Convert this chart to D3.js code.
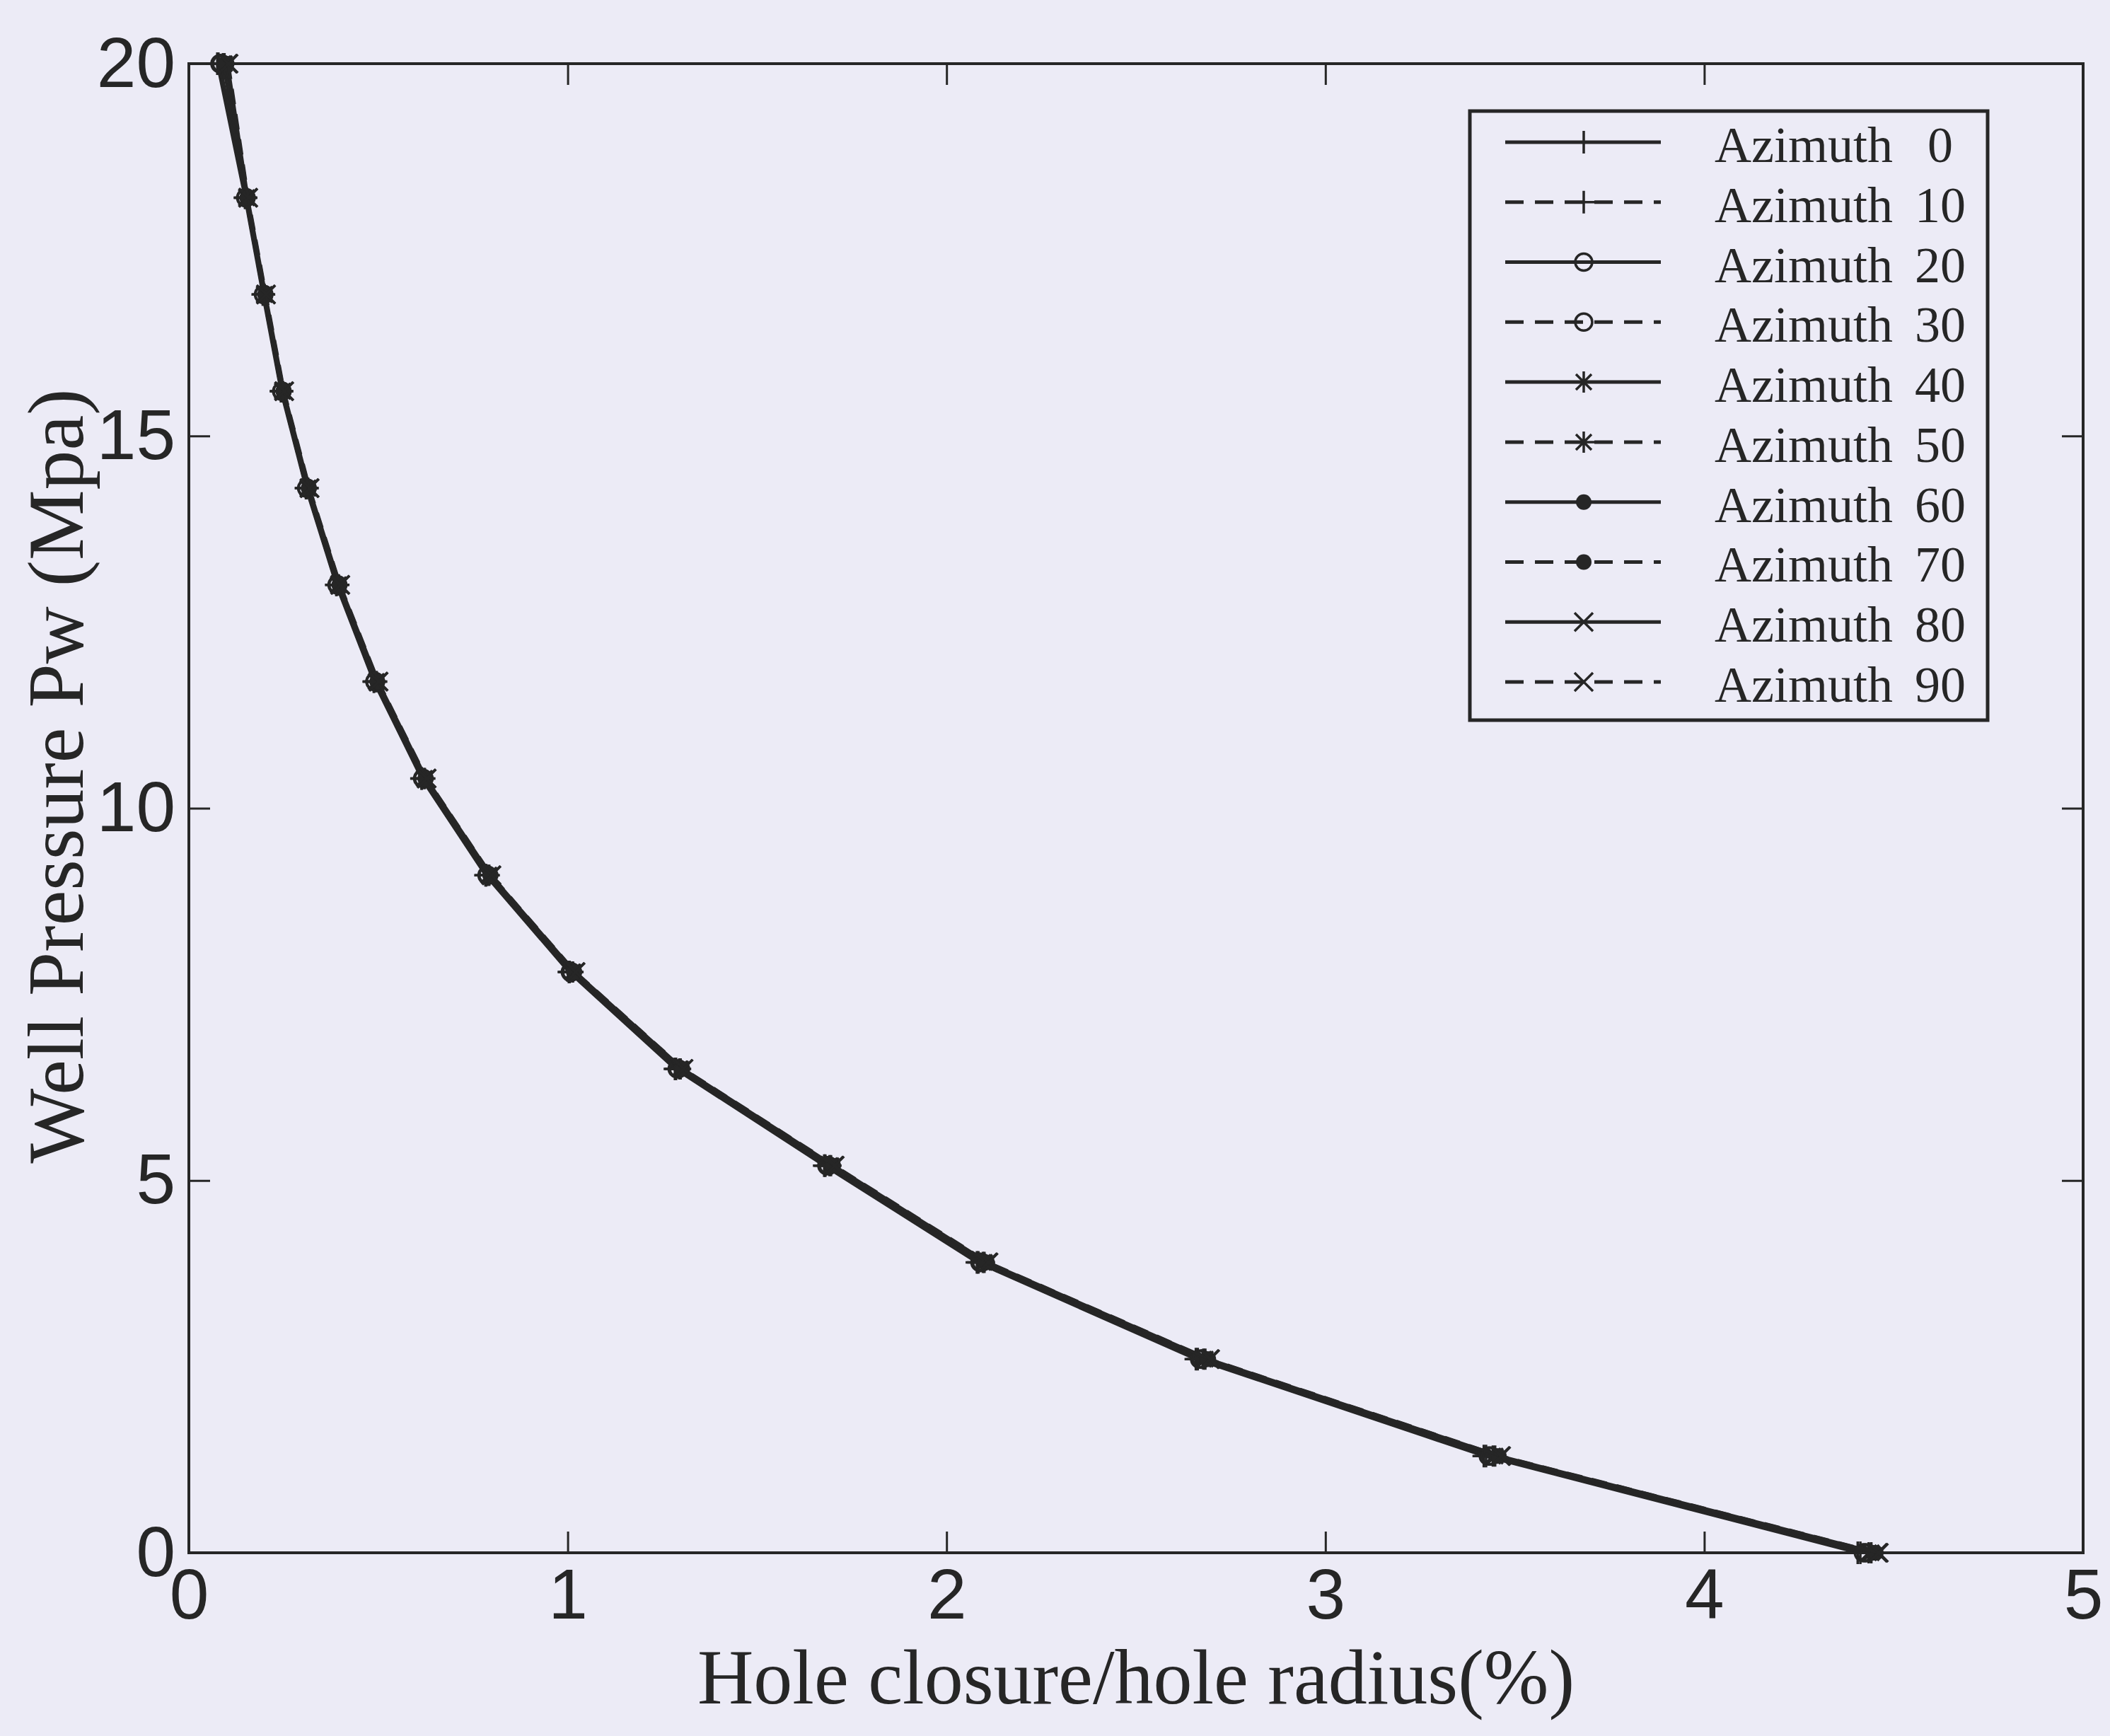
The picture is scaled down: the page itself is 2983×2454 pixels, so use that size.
<!DOCTYPE html>
<html>
<head>
<meta charset="utf-8">
<script src="https://cdn.jsdelivr.net/npm/d3@7/dist/d3.min.js"></script>
<style>
  body { margin: 0; background: #ecebf6; }
  svg { display: block; }
</style>
</head>
<body>
<svg id="chart"></svg>
<script>
// well pressure levels (Mpa), shared by every azimuth curve
const pressure = [20, 18.2, 16.9, 15.6, 14.3, 13.0, 11.7, 10.4, 9.1, 7.8, 6.5, 5.2, 3.9, 2.6, 1.3, 0];

// hole closure / hole radius (%) for each azimuth
const closureAz0  = [0.075, 0.148, 0.195, 0.243, 0.309, 0.389, 0.488, 0.614, 0.783, 1.003, 1.283, 1.677, 2.080, 2.658, 3.418, 4.405];
const closureAz10 = [0.078, 0.149, 0.196, 0.244, 0.310, 0.390, 0.489, 0.615, 0.785, 1.005, 1.286, 1.680, 2.084, 2.663, 3.424, 4.412];
const closureAz20 = [0.082, 0.150, 0.197, 0.245, 0.311, 0.391, 0.491, 0.617, 0.787, 1.007, 1.289, 1.684, 2.088, 2.668, 3.430, 4.420];
const closureAz30 = [0.086, 0.151, 0.198, 0.246, 0.312, 0.393, 0.492, 0.619, 0.789, 1.010, 1.292, 1.688, 2.092, 2.673, 3.436, 4.427];
const closureAz40 = [0.090, 0.152, 0.199, 0.247, 0.314, 0.394, 0.494, 0.621, 0.791, 1.012, 1.295, 1.691, 2.096, 2.678, 3.442, 4.434];
const closureAz50 = [0.094, 0.153, 0.200, 0.248, 0.315, 0.396, 0.496, 0.623, 0.793, 1.014, 1.298, 1.695, 2.100, 2.683, 3.448, 4.441];
const closureAz60 = [0.097, 0.154, 0.201, 0.249, 0.316, 0.397, 0.497, 0.624, 0.795, 1.016, 1.300, 1.698, 2.103, 2.687, 3.453, 4.447];
const closureAz70 = [0.100, 0.155, 0.202, 0.250, 0.317, 0.398, 0.498, 0.626, 0.797, 1.018, 1.303, 1.701, 2.107, 2.691, 3.458, 4.453];
const closureAz80 = [0.103, 0.156, 0.203, 0.251, 0.318, 0.399, 0.500, 0.627, 0.798, 1.020, 1.305, 1.703, 2.109, 2.694, 3.462, 4.458];
const closureAz90 = [0.105, 0.157, 0.204, 0.252, 0.319, 0.400, 0.501, 0.628, 0.799, 1.021, 1.306, 1.705, 2.111, 2.696, 3.464, 4.461];

const azimuths = [0, 10, 20, 30, 40, 50, 60, 70, 80, 90];
const closures = [closureAz0, closureAz10, closureAz20, closureAz30, closureAz40,
                  closureAz50, closureAz60, closureAz70, closureAz80, closureAz90];
const markerKinds = ['plus', 'plus', 'circle', 'circle', 'star', 'star', 'dot', 'dot', 'cross', 'cross'];
const dashed = [false, true, false, true, false, true, false, true, false, true];

const xTicks = [0, 1, 2, 3, 4, 5];
const yTicks = [0, 5, 10, 15, 20];

const W = 2983, H = 2454;
const plotL = 267, plotR = 2945, plotT = 90, plotB = 2195;
const ink = '#262626';

const svg = d3.select('#chart').attr('width', W).attr('height', H);
svg.append('rect').attr('width', W).attr('height', H).attr('fill', '#ecebf6');

const x = d3.scaleLinear().domain([0, 5]).range([plotL, plotR]);
const y = d3.scaleLinear().domain([0, 20]).range([plotB, plotT]);

// axes: ticks point inward, box on all four sides
const tickFont = 'Liberation Sans, Arial, sans-serif';
const styleAxis = function(g, showText){
  g.select('.domain').remove();
  g.selectAll('.tick line').attr('stroke', ink).attr('stroke-width', 3);
  g.selectAll('.tick text')
   .attr('fill', ink).attr('font-family', tickFont).attr('font-size', 100)
   .style('display', showText ? null : 'none');
};

svg.append('g').attr('transform', `translate(0, ${plotB})`)
   .call(d3.axisBottom(x).tickValues(xTicks).tickFormat(d3.format('d')).tickSize(-30).tickPadding(22))
   .call(styleAxis, true);
svg.append('g').attr('transform', `translate(0, ${plotT})`)
   .call(d3.axisTop(x).tickValues(xTicks).tickSize(-30))
   .call(styleAxis, false);
svg.append('g').attr('transform', `translate(${plotL}, 0)`)
   .call(d3.axisLeft(y).tickValues(yTicks).tickFormat(d3.format('d')).tickSize(-30).tickPadding(19))
   .call(styleAxis, true);
svg.append('g').attr('transform', `translate(${plotR}, 0)`)
   .call(d3.axisRight(y).tickValues(yTicks).tickSize(-30))
   .call(styleAxis, false);

svg.append('rect')
   .attr('x', plotL).attr('y', plotT)
   .attr('width', plotR - plotL).attr('height', plotB - plotT)
   .attr('fill', 'none').attr('stroke', ink).attr('stroke-width', 4);

// marker shapes in the style of matlab '+', 'o', '*', '.', 'x'
const drawMarker = function(sel, kind){
  if (kind === 'plus') {
    sel.append('path').attr('d', 'M-16,0H16M0,-16V16')
       .attr('stroke', ink).attr('stroke-width', 3.5).attr('fill', 'none');
  } else if (kind === 'circle') {
    sel.append('circle').attr('r', 12)
       .attr('stroke', ink).attr('stroke-width', 3.5).attr('fill', 'none');
  } else if (kind === 'star') {
    sel.append('path').attr('d', 'M-15,0H15M0,-15V15M-11,-11L11,11M-11,11L11,-11')
       .attr('stroke', ink).attr('stroke-width', 3.5).attr('fill', 'none');
  } else if (kind === 'dot') {
    sel.append('circle').attr('r', 11).attr('fill', ink);
  } else {
    sel.append('path').attr('d', 'M-13,-13L13,13M-13,13L13,-13')
       .attr('stroke', ink).attr('stroke-width', 3.5).attr('fill', 'none');
  }
};

const line = d3.line().x(d => x(d[0])).y(d => y(d[1]));

const curves = svg.append('g');
azimuths.forEach((az, i) => {
  const pts = closures[i].map((c, k) => [c, pressure[k]]);
  curves.append('path')
        .datum(pts)
        .attr('d', line)
        .attr('fill', 'none')
        .attr('stroke', ink)
        .attr('stroke-width', 4)
        .attr('stroke-dasharray', dashed[i] ? '22,14' : null);
  curves.append('g').selectAll('g').data(pts).enter().append('g')
        .attr('transform', d => `translate(${x(d[0])}, ${y(d[1])})`)
        .each(function(){ drawMarker(d3.select(this), markerKinds[i]); });
});

// axis titles
const titleFont = 'Liberation Serif, Times New Roman, serif';
svg.append('text')
   .attr('x', (plotL + plotR) / 2).attr('y', 2408)
   .attr('text-anchor', 'middle')
   .attr('font-family', titleFont).attr('font-size', 110).attr('fill', ink)
   .text('Hole closure/hole radius(%)');
svg.append('text')
   .attr('transform', 'translate(117, 1097) rotate(-90)')
   .attr('text-anchor', 'middle')
   .attr('font-family', titleFont).attr('font-size', 112).attr('fill', ink)
   .text('Well Pressure Pw (Mpa)');

// legend
const legend = svg.append('g');
legend.append('rect')
      .attr('x', 2078).attr('y', 157).attr('width', 732).attr('height', 861)
      .attr('fill', '#ecebf6').attr('stroke', ink).attr('stroke-width', 5);

const rowY = d3.scaleLinear().domain([0, 9]).range([205, 968]);
azimuths.forEach((az, i) => {
  const row = legend.append('g').attr('transform', `translate(0, ${rowY(i)})`);
  row.append('line')
     .attr('x1', 2128).attr('x2', 2348).attr('y1', -4).attr('y2', -4)
     .attr('stroke', ink).attr('stroke-width', 5)
     .attr('stroke-dasharray', dashed[i] ? '26,16' : null);
  row.append('g').attr('transform', 'translate(2239, -4)')
     .call(drawMarker, markerKinds[i]);
  row.append('text')
     .attr('x', 2424).attr('y', 24)
     .attr('font-family', titleFont).attr('font-size', 72).attr('fill', ink)
     .text('Azimuth');
  row.append('text')
     .attr('x', 2743).attr('y', 24).attr('text-anchor', 'middle')
     .attr('font-family', titleFont).attr('font-size', 72).attr('fill', ink)
     .text(az);
});
</script>
</body>
</html>
